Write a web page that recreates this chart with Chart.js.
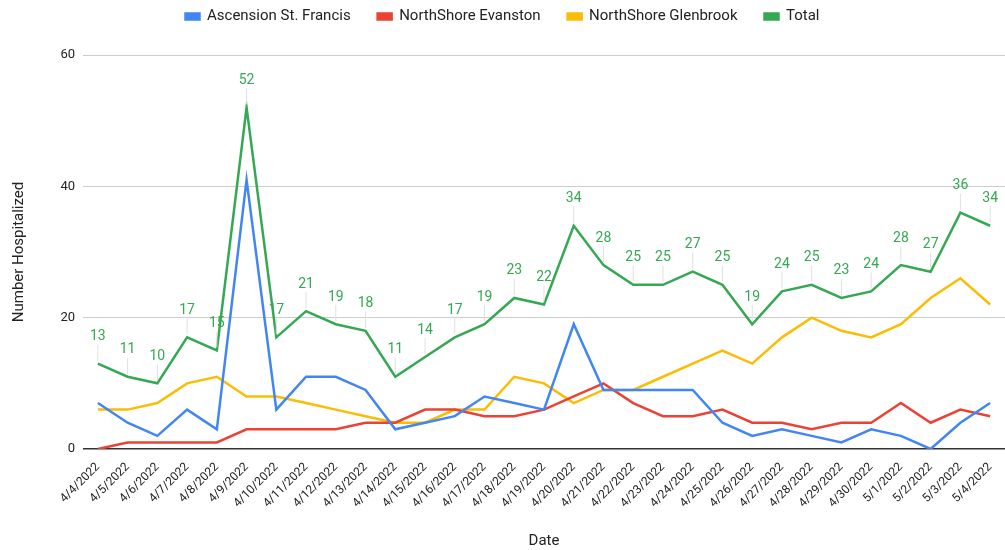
<!DOCTYPE html>
<html lang="en">

<head>
    <meta charset="UTF-8">
    <title>Hospitalized by Date</title>
    <script src="https://cdn.jsdelivr.net/npm/chart.js"></script>
    <style>
        html, body {
            margin: 0;
            padding: 0;
            background: #ffffff;
        }

        #wrap {
            width: 1005px;
            height: 550px;
        }
    </style>
</head>

<body>
    <div id="wrap">
        <canvas id="chart"></canvas>
    </div>

    <script>
        const dates = ["4/4/2022", "4/5/2022", "4/6/2022", "4/7/2022", "4/8/2022", "4/9/2022", "4/10/2022",
            "4/11/2022", "4/12/2022", "4/13/2022", "4/14/2022", "4/15/2022", "4/16/2022", "4/17/2022",
            "4/18/2022", "4/19/2022", "4/20/2022", "4/21/2022", "4/22/2022", "4/23/2022", "4/24/2022",
            "4/25/2022", "4/26/2022", "4/27/2022", "4/28/2022", "4/29/2022", "4/30/2022", "5/1/2022",
            "5/2/2022", "5/3/2022", "5/4/2022"];

        const ascension = [7, 4, 2, 6, 3, 41, 6, 11, 11, 9, 3, 4, 5, 8, 7, 6, 19, 9, 9, 9, 9, 4, 2, 3, 2, 1, 3, 2, 0, 4, 7];
        const evanston = [0, 1, 1, 1, 1, 3, 3, 3, 3, 4, 4, 6, 6, 5, 5, 6, 8, 10, 7, 5, 5, 6, 4, 4, 3, 4, 4, 7, 4, 6, 5];
        const glenbrook = [6, 6, 7, 10, 11, 8, 8, 7, 6, 5, 4, 4, 6, 6, 11, 10, 7, 9, 9, 11, 13, 15, 13, 17, 20, 18, 17, 19, 23, 26, 22];
        const total = [13, 11, 10, 17, 15, 52, 17, 21, 19, 18, 11, 14, 17, 19, 23, 22, 34, 28, 25, 25, 27, 25, 19, 24, 25, 23, 24, 28, 27, 36, 34];

        const yTicks = [0, 20, 40, 60];

        // labels over the Total line, with a thin grey leader
        const totalLabels = {
            id: 'totalLabels',
            afterDatasetsDraw(chart) {
                const ctx = chart.ctx;
                const meta = chart.getDatasetMeta(3);
                ctx.save();
                ctx.font = '14px Roboto';
                ctx.textAlign = 'center';
                ctx.textBaseline = 'bottom';
                meta.data.forEach((pt, i) => {
                    const x = pt.x, y = pt.y;
                    ctx.strokeStyle = '#e0e0e0';
                    ctx.lineWidth = 1;
                    ctx.beginPath();
                    ctx.moveTo(x, y - 19);
                    ctx.lineTo(x, y - 3);
                    ctx.stroke();
                    ctx.fillStyle = '#34a853';
                    ctx.fillText(total[i], x, y - 20);
                });
                ctx.restore();
            }
        };

        // extra room between the legend and the plot
        const legendGap = {
            id: 'legendGap',
            beforeInit(chart) {
                const fit = chart.legend.fit;
                chart.legend.fit = function () {
                    fit.call(this);
                    this.height += 21;
                };
            }
        };

        const lineDs = (label, data, color) => ({
            label: label,
            data: data,
            borderColor: color,
            backgroundColor: color,
            borderWidth: 2.5,
            pointRadius: 0,
            pointHoverRadius: 0,
            fill: false,
            tension: 0
        });

        new Chart(document.getElementById('chart'), {
            type: 'line',
            data: {
                labels: dates,
                datasets: [
                    lineDs('Ascension St. Francis', ascension, '#4285f4'),
                    lineDs('NorthShore Evanston', evanston, '#ea4335'),
                    lineDs('NorthShore Glenbrook', glenbrook, '#fbbc04'),
                    lineDs('Total', total, '#34a853')
                ]
            },
            options: {
                responsive: true,
                maintainAspectRatio: false,
                animation: false,
                layout: {
                    padding: { top: -18, right: 0, bottom: 0, left: 0 }
                },
                plugins: {
                    legend: {
                        position: 'top',
                        labels: {
                            font: { family: 'Roboto', size: 15 },
                            color: '#222',
                            boxWidth: 14,
                            boxHeight: 6,
                            padding: 27
                        }
                    },
                    tooltip: { enabled: false }
                },
                scales: {
                    x: {
                        offset: true,
                        grid: { display: false },
                        border: { display: false },
                        ticks: {
                            autoSkip: false,
                            maxRotation: 45,
                            minRotation: 45,
                            font: { family: 'Roboto', size: 12 },
                            color: '#222'
                        },
                        title: {
                            display: true,
                            text: 'Date',
                            font: { family: 'Roboto', size: 15 },
                            color: '#222',
                            padding: { top: 8, bottom: 0 }
                        },
                        afterFit(scale) { scale.height = 101; }
                    },
                    y: {
                        min: 0,
                        max: 60,
                        afterBuildTicks(scale) {
                            scale.ticks = yTicks.map(v => ({ value: v }));
                        },
                        grid: {
                            color: (c) => c.tick && c.tick.value === 0 ? '#333' : '#cccccc',
                            lineWidth: (c) => c.tick && c.tick.value === 0 ? 1.5 : 1,
                            drawTicks: false
                        },
                        border: { display: false },
                        ticks: {
                            padding: 8,
                            font: { family: 'Roboto', size: 13 },
                            color: '#222'
                        },
                        title: {
                            display: true,
                            text: 'Number Hospitalized',
                            font: { family: 'Roboto', size: 15 },
                            color: '#222',
                            padding: { top: 10, bottom: 4 }
                        },
                        afterFit(scale) { scale.width = 83; }
                    }
                }
            },
            plugins: [totalLabels, legendGap]
        });
    </script>
</body>

</html>
